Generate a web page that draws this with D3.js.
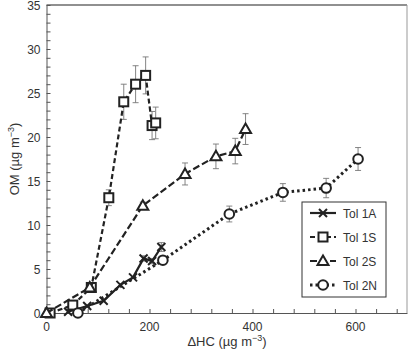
<!DOCTYPE html>
<html lang="en">
<head>
<meta charset="UTF-8">
<title>OM vs HC</title>
<script src="https://d3js.org/d3.v7.min.js"></script>
<style>
    body { margin: 0; background: #fff; }
    svg text { font-family: "Liberation Sans", Arial, sans-serif; fill: #333; }
</style>
</head>
<body>
<div id="chart"></div>
<script>
    // series data
    const tol1A_x = [42, 79, 111, 143.5, 168, 188.5, 205, 223];
    const tol1A_y = [0.15, 0.8, 1.4, 3.2, 4.05, 6.2, 5.9, 7.5];
    const tol1A_e = [0, 0, 0, 0, 0, 0.3, 0.3, 0.5];

    const tol1S_x = [7, 51, 87, 121, 150, 173, 192.5, 205, 212];
    const tol1S_y = [0, 0.9, 2.9, 13.1, 24.0, 26.0, 27.0, 21.3, 21.6];
    const tol1S_e = [0, 0, 0.3, 0.9, 2.0, 2.1, 2.1, 1.6, 1.8];

    const tol2S_x = [0, 84, 187, 269, 329, 366.5, 386.5];
    const tol2S_y = [0, 2.9, 12.2, 15.8, 17.8, 18.4, 20.9];
    const tol2S_e = [0, 0, 0.4, 1.25, 1.4, 1.45, 1.75];

    const tol2N_x = [61, 226, 355, 459, 543, 605];
    const tol2N_y = [0, 6.0, 11.25, 13.7, 14.2, 17.5];
    const tol2N_e = [0, 0.4, 0.9, 1.0, 1.1, 1.3];

    const seriesNames = ["Tol 1A", "Tol 1S", "Tol 2S", "Tol 2N"];
    const xTickLabels = [0, 200, 400, 600];
    const yTickLabels = [0, 5, 10, 15, 20, 25, 30, 35];

    const W = 409, H = 356;
    const margin = {left: 46.5, right: 2, top: 5, bottom: 43};

    const x = d3.scaleLinear().domain([0, 700]).range([margin.left, W - margin.right]);
    const y = d3.scaleLinear().domain([0, 35]).range([H - margin.bottom, margin.top]);

    const svg = d3.select("#chart").append("svg")
        .attr("width", W).attr("height", H);

    // frame: top and right
    svg.append("line").attr("x1", x(0)).attr("x2", x(700)).attr("y1", y(35)).attr("y2", y(35))
        .attr("stroke", "#222").attr("stroke-width", 1.2);
    svg.append("line").attr("x1", x(700)).attr("x2", x(700)).attr("y1", y(35)).attr("y2", y(0))
        .attr("stroke", "#999").attr("stroke-width", 1);

    // axes with inward ticks
    const xAxis = svg.append("g").attr("transform", `translate(0,${y(0)})`)
        .call(d3.axisBottom(x).tickValues(d3.range(0, 701, 40)).tickSize(-4).tickSizeOuter(0).tickFormat(""));
    xAxis.selectAll("text").remove();
    xAxis.selectAll("line, path").attr("stroke", "#555");
    svg.append("g").selectAll("text").data(xTickLabels).join("text")
        .attr("x", d => x(d)).attr("y", y(0) + 18)
        .attr("text-anchor", "middle").attr("font-size", 12).text(d => d);

    const yAxis = svg.append("g").attr("transform", `translate(${x(0)},0)`)
        .call(d3.axisLeft(y).tickValues(d3.range(0, 36, 1)).tickSize(-4).tickSizeOuter(0).tickFormat(""));
    yAxis.selectAll("line, path").attr("stroke", "#555");
    svg.append("g").selectAll("text").data(yTickLabels).join("text")
        .attr("x", x(0) - 6).attr("y", d => Math.max(y(d) + 4.5, 10))
        .attr("text-anchor", "end").attr("font-size", 12).text(d => d);

    // axis titles
    const xt = svg.append("text").attr("x", 227).attr("y", 346).attr("text-anchor", "middle").attr("font-size", 13);
    xt.append("tspan").text("\u0394HC (\u00b5g m");
    xt.append("tspan").attr("dy", -5).attr("font-size", 9).text("\u22123");
    xt.append("tspan").attr("dy", 5).text(")");

    const yt = svg.append("text").attr("transform", `translate(19,${y(17.5)}) rotate(-90)`)
        .attr("text-anchor", "middle").attr("font-size", 13);
    yt.append("tspan").text("OM (\u00b5g m");
    yt.append("tspan").attr("dy", -5).attr("font-size", 9).text("\u22123");
    yt.append("tspan").attr("dy", 5).text(")");

    const series = [
        {name: seriesNames[0], xs: tol1A_x, ys: tol1A_y, es: tol1A_e, dash: null, marker: "x"},
        {name: seriesNames[1], xs: tol1S_x, ys: tol1S_y, es: tol1S_e, dash: "5,3", marker: "square"},
        {name: seriesNames[2], xs: tol2S_x, ys: tol2S_y, es: tol2S_e, dash: "7,3", marker: "triangle"},
        {name: seriesNames[3], xs: tol2N_x, ys: tol2N_y, es: tol2N_e, dash: "2.5,3", marker: "circle"}
    ];

    const line = d3.line().x(d => x(d[0])).y(d => y(d[1]));

    function drawMarker(g, type, cx, cy) {
        let m;
        if (type === "square") {
            m = g.append("rect").attr("x", cx - 4.5).attr("y", cy - 4.5).attr("width", 9).attr("height", 9);
        } else if (type === "triangle") {
            m = g.append("path").attr("d", `M${cx},${cy - 5.5} L${cx + 5.5},${cy + 4} L${cx - 5.5},${cy + 4} Z`);
        } else if (type === "circle") {
            m = g.append("circle").attr("cx", cx).attr("cy", cy).attr("r", 4.8);
        } else {
            m = g.append("path").attr("d", `M${cx - 4},${cy - 4} L${cx + 4},${cy + 4} M${cx - 4},${cy + 4} L${cx + 4},${cy - 4}`);
        }
        m.attr("stroke", "#222").attr("stroke-width", 2).attr("fill", type === "x" ? "none" : "#fff");
    }

    // error bars
    const errG = svg.append("g");
    series.forEach(s => {
        s.xs.forEach((xv, i) => {
            const e = s.es[i];
            if (!e) return;
            const cx = x(xv), lo = y(s.ys[i] - e), hi = y(s.ys[i] + e);
            errG.append("line").attr("x1", cx).attr("x2", cx).attr("y1", lo).attr("y2", hi);
            errG.append("line").attr("x1", cx - 3).attr("x2", cx + 3).attr("y1", lo).attr("y2", lo);
            errG.append("line").attr("x1", cx - 3).attr("x2", cx + 3).attr("y1", hi).attr("y2", hi);
        });
    });
    errG.selectAll("line").attr("stroke", "#777").attr("stroke-width", 0.9);

    // lines and markers
    series.forEach(s => {
        const pts = s.xs.map((xv, i) => [xv, s.ys[i]]);
        const p = svg.append("path").datum(pts).attr("d", line)
            .attr("fill", "none").attr("stroke", "#222")
            .attr("stroke-width", s.marker === "circle" ? 3 : 2.2);
        if (s.dash) p.attr("stroke-dasharray", s.dash);
        const g = svg.append("g");
        pts.forEach(d => drawMarker(g, s.marker, x(d[0]), y(d[1])));
    });

    // legend
    const lg = svg.append("g");
    lg.append("rect").attr("x", 302).attr("y", 202).attr("width", 84).attr("height", 95)
        .attr("fill", "#fff").attr("stroke", "#333").attr("stroke-width", 1);
    const rowY = [213, 237, 261, 285];
    series.forEach((s, i) => {
        const ly = rowY[i];
        const l = lg.append("line").attr("x1", 310).attr("x2", 336).attr("y1", ly).attr("y2", ly)
            .attr("stroke", "#222").attr("stroke-width", s.marker === "circle" ? 3 : 2.2);
        if (s.dash) l.attr("stroke-dasharray", s.dash);
        drawMarker(lg, s.marker, 323, ly);
        lg.append("text").attr("x", 343).attr("y", ly + 4.5).attr("font-size", 12).text(s.name);
    });
</script>
</body>
</html>
